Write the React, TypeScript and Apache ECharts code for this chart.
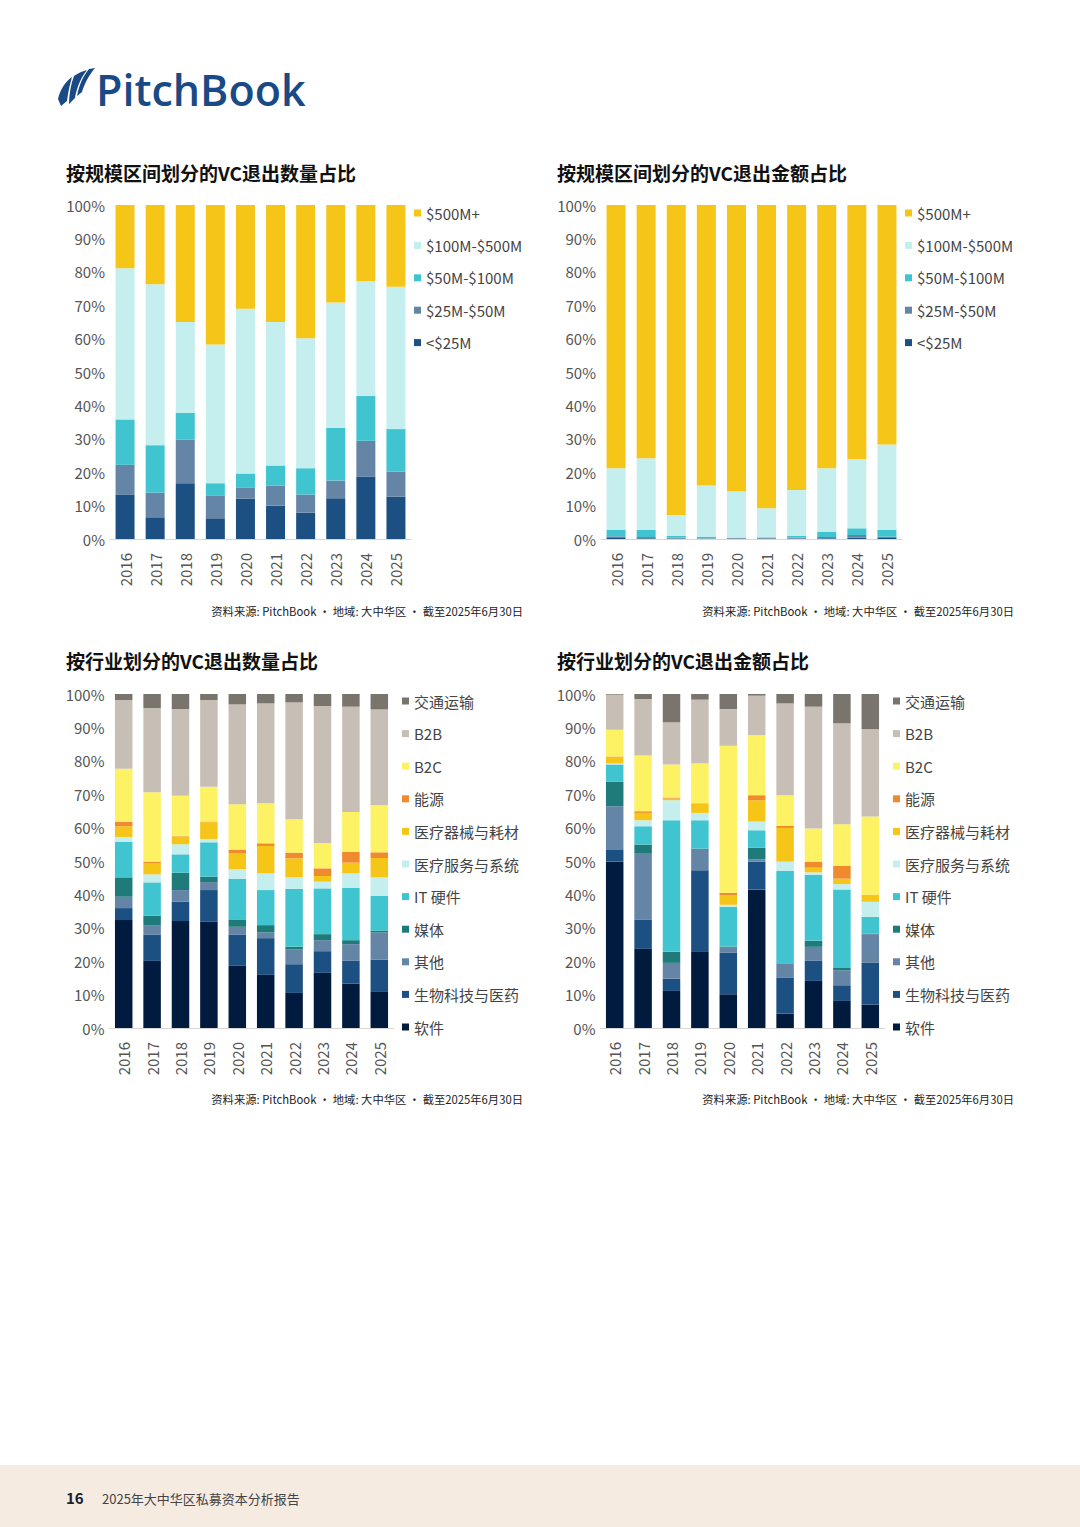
import React, { useEffect, useRef } from "react";
import * as echarts from "echarts";

const years = ["2016", "2017", "2018", "2019", "2020", "2021", "2022", "2023", "2024", "2025"];

// 按规模区间划分的VC退出数量占比 (%), bottom to top
const cntLt25 = [13.2, 6.5, 16.7, 6.2, 12.1, 10.0, 7.9, 12.2, 18.7, 12.7];
const cnt25to50 = [9.0, 7.4, 13.1, 6.7, 3.2, 6.0, 5.4, 5.3, 10.7, 7.5];
const cnt50to100 = [13.6, 14.2, 8.0, 3.8, 4.3, 6.0, 7.9, 15.7, 13.4, 12.7];
const cnt100to500 = [45.3, 48.2, 27.2, 41.5, 49.3, 43.0, 38.9, 37.6, 34.4, 42.6];
const cnt500p = [18.9, 23.7, 35.0, 41.8, 31.1, 35.0, 39.9, 29.2, 22.8, 24.5];

// 按规模区间划分的VC退出金额占比 (%)
const valLt25 = [0.3, 0.2, 0.1, 0.05, 0.1, 0.1, 0.1, 0.2, 0.4, 0.3];
const val25to50 = [0.5, 0.4, 0.3, 0.15, 0.2, 0.2, 0.3, 0.4, 0.8, 0.4];
const val50to100 = [1.9, 2.1, 0.5, 0.5, 0.1, 0.2, 0.5, 1.6, 2.0, 2.0];
const val100to500 = [18.5, 21.5, 6.3, 15.3, 13.8, 8.7, 13.8, 19.0, 20.7, 25.6];
const val500p = [78.8, 75.8, 92.8, 84.0, 85.8, 90.8, 85.3, 78.8, 76.1, 71.7];

// 按行业划分的VC退出数量占比 (%)
const cntSoftware = [32.3, 20.1, 32.0, 31.8, 18.6, 15.9, 10.5, 16.5, 13.3, 11.0];
const cntBiotech = [3.6, 7.9, 5.8, 9.5, 9.4, 11.0, 8.6, 6.5, 6.8, 9.5];
const cntOther = [3.4, 2.8, 3.5, 2.4, 2.3, 1.7, 4.4, 3.3, 5.0, 8.1];
const cntMedia = [5.8, 2.8, 5.2, 1.6, 2.2, 2.2, 0.8, 1.8, 1.2, 0.5];
const cntIT = [10.6, 10.0, 5.5, 10.3, 12.2, 10.5, 17.4, 13.7, 15.7, 10.5];
const cntHealthSvc = [1.5, 2.4, 3.0, 1.0, 2.8, 5.0, 3.4, 2.0, 4.3, 5.5];
const cntHealthDev = [3.2, 3.3, 2.2, 5.0, 4.9, 8.2, 5.7, 1.7, 3.2, 5.8];
const cntEnergy = [1.3, 0.5, 0.2, 0.2, 1.0, 0.8, 1.7, 2.3, 3.2, 1.7];
const cntB2C = [15.9, 20.8, 12.1, 10.4, 13.6, 12.0, 10.0, 7.6, 12.0, 14.1];
const cntB2B = [20.6, 25.2, 26.0, 26.0, 29.9, 29.9, 35.0, 41.0, 31.5, 28.7];
const cntTransport = [1.8, 4.2, 4.5, 1.8, 3.1, 2.8, 2.5, 3.6, 3.8, 4.6];

// 按行业划分的VC退出金额占比 (%)
const valSoftware = [49.8, 23.7, 11.1, 23.0, 10.1, 41.5, 4.3, 14.1, 8.1, 7.0];
const valBiotech = [3.7, 8.8, 3.7, 24.2, 12.4, 8.3, 10.7, 6.0, 4.7, 12.5];
const valOther = [12.9, 19.9, 4.7, 6.4, 1.8, 0.7, 4.3, 4.2, 4.5, 8.6];
const valMedia = [7.3, 2.5, 3.3, 0.1, 0.1, 3.5, 0.1, 1.8, 0.7, 0.1];
const valIT = [5.2, 5.5, 39.4, 8.5, 11.9, 5.2, 27.6, 19.7, 23.5, 5.1];
const valHealthSvc = [0.3, 1.8, 6.0, 2.2, 0.6, 2.6, 2.8, 0.8, 1.6, 4.5];
const valHealthDev = [2.0, 2.2, 0.5, 2.8, 2.8, 6.4, 10.1, 1.4, 1.6, 2.0];
const valEnergy = [0.1, 0.5, 0.3, 0.1, 0.8, 1.5, 0.6, 1.8, 3.8, 0.1];
const valB2C = [8.0, 16.7, 9.9, 12.0, 44.0, 18.0, 9.2, 9.9, 12.5, 23.4];
const valB2B = [10.5, 16.9, 12.6, 19.0, 11.0, 11.8, 27.5, 36.5, 30.2, 26.2];
const valTransport = [0.2, 1.5, 8.5, 1.7, 4.5, 0.5, 2.8, 3.8, 8.8, 10.5];

const sizeNames = ["<$25M", "$25M-$50M", "$50M-$100M", "$100M-$500M", "$500M+"];
const sizeColors = ["#1C4F82", "#6585A6", "#40C4CF", "#C5EEEE", "#F5C518"];

const industryNames = ["软件", "生物科技与医药", "其他", "媒体", "IT 硬件", "医疗服务与系统", "医疗器械与耗材", "能源", "B2C", "B2B", "交通运输"];
const industryColors = ["#001B3D", "#1C4F82", "#6585A6", "#1F7A7A", "#40C4CF", "#C5EEEE", "#F5C518", "#F08A2E", "#FCF264", "#C7BFB5", "#7A756C"];

const titles = ["按规模区间划分的VC退出数量占比", "按规模区间划分的VC退出金额占比", "按行业划分的VC退出数量占比", "按行业划分的VC退出金额占比"];
const sourceText = "资料来源: PitchBook • 地域: 大中华区 • 截至2025年6月30日";
const footerPage = "16";
const footerTitle = "2025年大中华区私募资本分析报告";

const FONT = '"Noto Sans CJK SC", "Noto Sans", sans-serif';

const logoPath =
  "M0 31 C2 22 7 14 14 9 C12 16 10 24 9 33 L3 38 Z " +
  "M16 8 C20 5 25 3 29 2 C24 8 19 18 17 30 L11 36 C11 26 13 16 16 8 Z " +
  "M31 1 L37 0 C32 6 27 14 24 24 L19 28 C21 17 25 8 31 1 Z";
echarts.graphic.registerShape("pbLogo", echarts.graphic.extendPath(logoPath, {}));

export default function App() {
  const ref = useRef<HTMLDivElement>(null);

  useEffect(() => {
    if (!ref.current) return;
    const chart = echarts.init(ref.current, undefined, { renderer: "svg" });

    const grids = [
      { left: 110, top: 205, width: 301, height: 334 },
      { left: 601, top: 205, width: 301, height: 334 },
      { left: 109.5, top: 694, width: 284, height: 334 },
      { left: 600.5, top: 694, width: 284, height: 334 },
    ];
    const barWidths = [19, 19, 17.5, 17.5];

    const xAxes = grids.map((_, i) => ({
      type: "category",
      gridIndex: i,
      data: years,
      axisTick: { show: false },
      axisLine: { lineStyle: { color: "#d6d6d6", width: 1 } },
      axisLabel: { rotate: 90, fontSize: 15, color: "#555", margin: 14, fontFamily: FONT },
    }));
    const yAxes = grids.map((_, i) => ({
      type: "value",
      gridIndex: i,
      min: 0,
      max: 100,
      interval: 10,
      splitLine: { show: false },
      axisLine: { show: false },
      axisTick: { show: false },
      axisLabel: { formatter: "{value}%", fontSize: 15, color: "#555", margin: 5, fontFamily: FONT },
    }));

    const sizeCount = [cntLt25, cnt25to50, cnt50to100, cnt100to500, cnt500p];
    const sizeValue = [valLt25, val25to50, val50to100, val100to500, val500p];
    const indCount = [cntSoftware, cntBiotech, cntOther, cntMedia, cntIT, cntHealthSvc, cntHealthDev, cntEnergy, cntB2C, cntB2B, cntTransport];
    const indValue = [valSoftware, valBiotech, valOther, valMedia, valIT, valHealthSvc, valHealthDev, valEnergy, valB2C, valB2B, valTransport];

    const mk = (names: string[], colors: string[], datas: number[][], idx: number) =>
      datas.map((d, k) => ({
        type: "bar",
        name: names[k],
        data: d,
        stack: "s" + idx,
        xAxisIndex: idx,
        yAxisIndex: idx,
        barWidth: barWidths[idx],
        itemStyle: { color: colors[k] },
        emphasis: { disabled: true },
      }));

    const series = [
      ...mk(sizeNames, sizeColors, sizeCount, 0),
      ...mk(sizeNames, sizeColors, sizeValue, 1),
      ...mk(industryNames, industryColors, indCount, 2),
      ...mk(industryNames, industryColors, indValue, 3),
    ];

    const legendText = { fontSize: 15, lineHeight: 16, color: "#444", fontFamily: FONT };
    const sizeLegendData = [...sizeNames].reverse();
    const indLegendData = [...industryNames].reverse();
    const legends = [
      { left: 414, top: 205, data: sizeLegendData, itemGap: 16.4 },
      { left: 905, top: 205, data: sizeLegendData, itemGap: 16.4 },
      { left: 402, top: 693, data: indLegendData, itemGap: 16.6 },
      { left: 893, top: 693, data: indLegendData, itemGap: 16.6 },
    ].map((l) => ({
      ...l,
      orient: "vertical",
      icon: "rect",
      itemWidth: 7,
      itemHeight: 7,
      padding: 0,
      selectedMode: false,
      textStyle: legendText,
    }));

    const titlePos = [
      [66, 172],
      [557, 172],
      [66, 660],
      [557, 660],
    ];
    const sourcePos = [
      [523, 611],
      [1014, 611],
      [523, 1099],
      [1014, 1099],
    ];

    const graphic: any[] = [
      { type: "rect", shape: { x: 0, y: 1465, width: 1080, height: 62 }, style: { fill: "#F6EBE0" }, silent: true },
      { type: "pbLogo", x: 58, y: 68, scaleX: 1, scaleY: 1, style: { fill: "#1A4A85" } },
      {
        type: "text",
        x: 96,
        y: 89,
        style: { text: "PitchBook", fontSize: 43, fontWeight: 600, fontFamily: '"Open Sans", sans-serif', fill: "#1A4A85", verticalAlign: "middle", align: "left" },
      },
      ...titles.map((t, i) => ({
        type: "text",
        x: titlePos[i][0],
        y: titlePos[i][1],
        style: { text: t, fontSize: 19, fontWeight: "bold", fontFamily: FONT, fill: "#111", verticalAlign: "middle", align: "left" },
      })),
      ...sourcePos.map((p) => ({
        type: "text",
        x: p[0],
        y: p[1],
        style: { text: sourceText, fontSize: 11.3, fontFamily: FONT, fill: "#222", verticalAlign: "middle", align: "right" },
      })),
      {
        type: "text",
        x: 66,
        y: 1497,
        style: { text: footerPage, fontSize: 15, fontWeight: "bold", fontFamily: FONT, fill: "#1a2230", verticalAlign: "middle", align: "left" },
      },
      {
        type: "text",
        x: 102,
        y: 1498,
        style: { text: footerTitle, fontSize: 13, fontFamily: FONT, fill: "#444", verticalAlign: "middle", align: "left" },
      },
    ];

    chart.setOption({
      animation: false,
      backgroundColor: "#ffffff",
      textStyle: { fontFamily: FONT },
      grid: grids.map((g) => ({ ...g, containLabel: false })),
      xAxis: xAxes,
      yAxis: yAxes,
      legend: legends,
      series,
      graphic,
    } as any);

    return () => chart.dispose();
  }, []);

  return (
    <div style={{ position: "absolute", left: 0, top: 0, width: 1080, height: 1527, background: "#fff" }}>
      <div ref={ref} style={{ width: 1080, height: 1527 }} />
    </div>
  );
}
